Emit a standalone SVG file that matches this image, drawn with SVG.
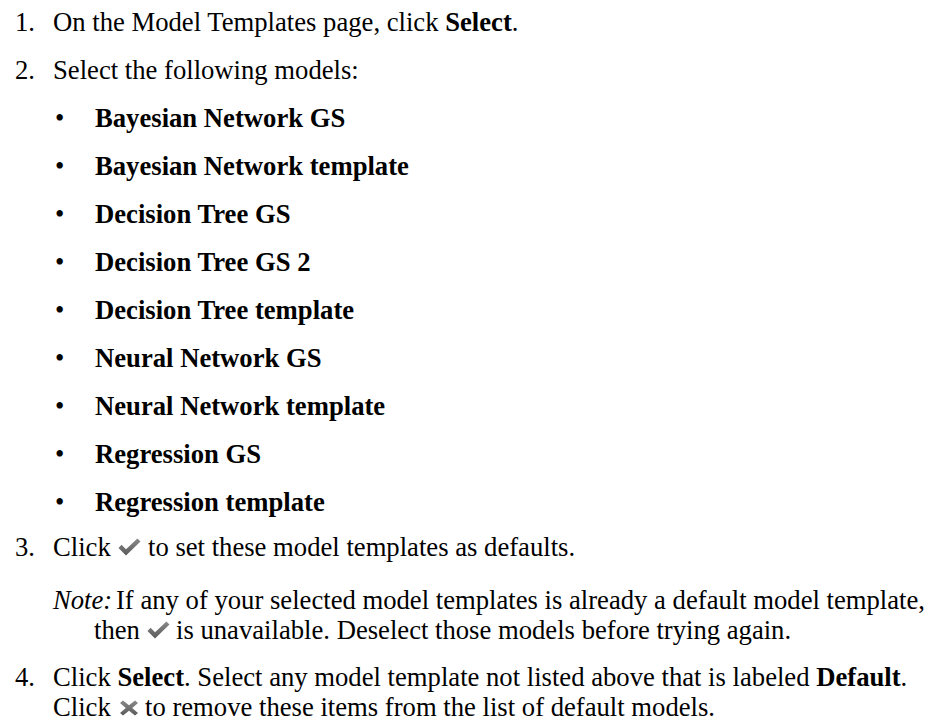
<svg xmlns="http://www.w3.org/2000/svg" width="944" height="723" viewBox="0 0 944 723">
<defs>
<style>
text{font-family:"Liberation Serif","Times New Roman",serif;font-size:26.67px;fill:#000}
.b{font-weight:bold}
.i{font-style:italic}
</style>
<linearGradient id="g" x1="0" y1="0" x2="0" y2="1">
<stop offset="0" stop-color="#8a8a8a"/>
<stop offset="1" stop-color="#5a5a5a"/>
</linearGradient>
<filter id="soft" x="-10%" y="-10%" width="120%" height="120%">
<feGaussianBlur stdDeviation="0.45"/>
</filter>
<symbol id="check" viewBox="0 0 23 18">
<path d="M0.5 10 L3.6 6.8 L8 11.2 L19.4 0.5 L22.5 3.6 L8 17.5 Z" fill="url(#g)" filter="url(#soft)"/>
</symbol>
<symbol id="cross" viewBox="0 0 20 16">
<path d="M1 3 L4 0.5 L10 5.3 L16 0.5 L19 3 L13.2 8 L19 13 L16 15.5 L10 10.7 L4 15.5 L1 13 L6.8 8 Z" fill="url(#g)" filter="url(#soft)"/>
</symbol>
</defs>
<g id="step1">
<text x="15" y="31">1.</text>
<text x="53" y="31">On the Model Templates page, click <tspan class="b">Select</tspan>.</text>
</g>
<g id="step2">
<text x="15" y="79">2.</text>
<text x="53" y="79">Select the following models:</text>
</g>
<g id="models">
<text x="55" y="127">•</text><text class="b" x="95" y="127">Bayesian Network GS</text>
<text x="55" y="175">•</text><text class="b" x="95" y="175">Bayesian Network template</text>
<text x="55" y="223">•</text><text class="b" x="95" y="223">Decision Tree GS</text>
<text x="55" y="271">•</text><text class="b" x="95" y="271">Decision Tree GS 2</text>
<text x="55" y="319">•</text><text class="b" x="95" y="319">Decision Tree template</text>
<text x="55" y="367">•</text><text class="b" x="95" y="367">Neural Network GS</text>
<text x="55" y="415">•</text><text class="b" x="95" y="415">Neural Network template</text>
<text x="55" y="463">•</text><text class="b" x="95" y="463">Regression GS</text>
<text x="55" y="511">•</text><text class="b" x="95" y="511">Regression template</text>
</g>
<g id="step3">
<text x="15" y="556">3.</text>
<text x="53" y="556">Click</text>
<use href="#check" x="118" y="538" width="23" height="18"/>
<text x="148" y="556">to set these model templates as defaults.</text>
</g>
<g id="note">
<text x="53" y="609" class="i">Note:</text>
<text x="925" y="609" text-anchor="end">If any of your selected model templates is already a default model template,</text>
<text x="94" y="639">then</text>
<use href="#check" x="147" y="621" width="23" height="18"/>
<text x="176" y="639">is unavailable. Deselect those models before trying again.</text>
</g>
<g id="step4">
<text x="15" y="686">4.</text>
<text x="53" y="686">Click <tspan class="b">Select</tspan>. Select any model template not listed above that is labeled <tspan class="b">Default</tspan>.</text>
<text x="53" y="716">Click</text>
<use href="#cross" x="119" y="700" width="20" height="16"/>
<text x="145" y="716">to remove these items from the list of default models.</text>
</g>
</svg>
